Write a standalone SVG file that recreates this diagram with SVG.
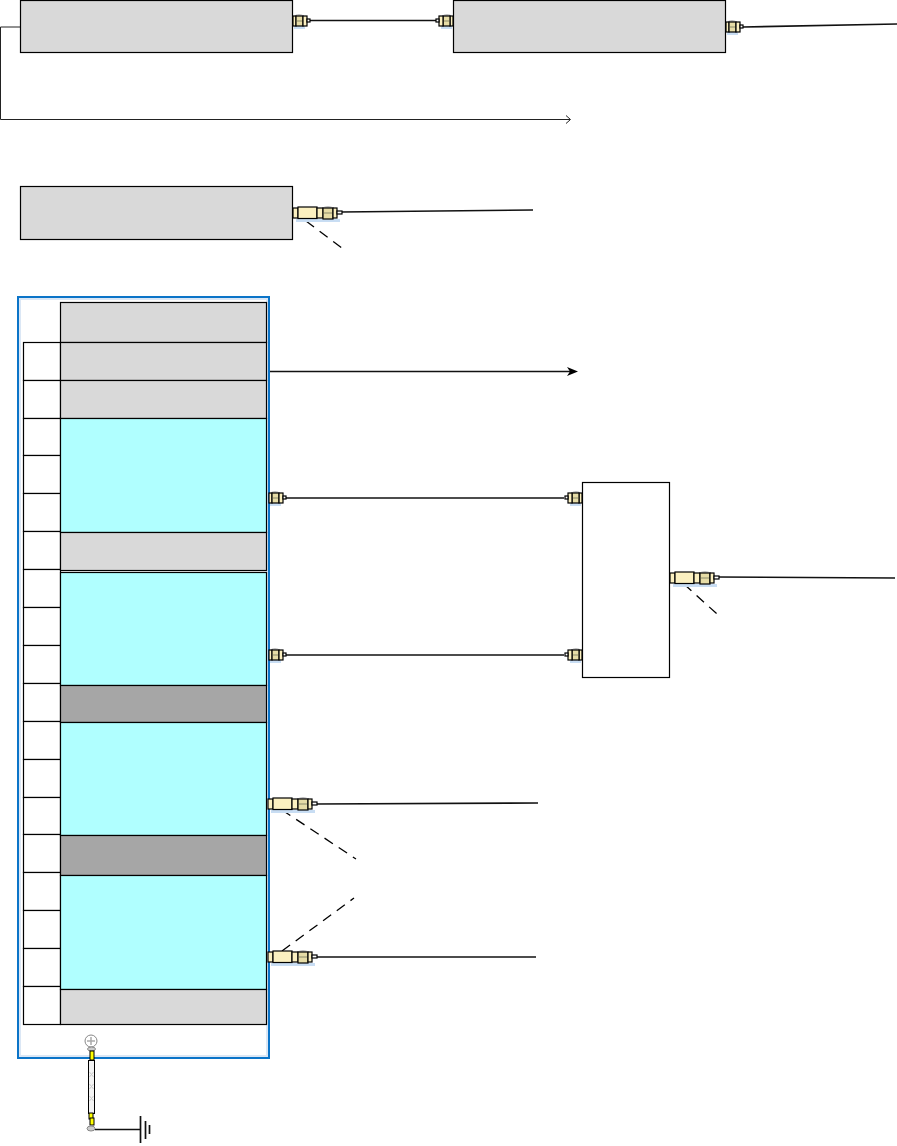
<svg xmlns="http://www.w3.org/2000/svg" width="897" height="1146" viewBox="0 0 897 1146">
<style>
.g{fill:#d9d9d9;stroke:#000;stroke-width:1.2}
.d{fill:#a6a6a6;stroke:#000;stroke-width:1.2}
.c{fill:#b0ffff;stroke:#000;stroke-width:1.2}
.w{fill:#fff;stroke:#000;stroke-width:1.2}
.l{fill:none;stroke:#222;stroke-width:1}
.t{fill:none;stroke:#111;stroke-width:1.7}
.da{fill:none;stroke:#000;stroke-width:1.3;stroke-dasharray:10 7}
.b{fill:#fbf0c0;stroke:#000;stroke-width:1.2}
.n{fill:#e6dca6;stroke:#000;stroke-width:1.2}
.sh{fill:#c8ddf3;stroke:none}
.x{stroke:#8a8a6a;stroke-width:1;fill:none}
</style>
<defs>
<g id="sma">
<rect class="sh" x="1" y="5" width="11" height="3"/>
<ellipse cx="6" cy="-5.500" rx="3.500" ry="1.500" fill="#bbb"/>
<rect class="b" x="0" y="-5" width="3" height="10"/>
<rect class="n" x="3" y="-5" width="7" height="10"/>
<path class="x" d="M4 0H9"/>
<rect class="b" x="10" y="-5" width="4" height="10"/>
<rect class="w" x="14" y="-2" width="3" height="3"/>
</g>
<g id="smal">
<rect class="sh" x="3" y="6" width="44" height="3"/>
<rect class="b" x="0" y="-5" width="5" height="10"/>
<rect class="b" x="5" y="-6" width="19" height="11.500"/>
<rect class="b" x="24" y="-5" width="6" height="10"/>
<ellipse cx="35" cy="-5.500" rx="4" ry="1.500" fill="#bbb"/>
<rect class="n" x="30" y="-5" width="10" height="11"/>
<path class="x" d="M31 0H39"/>
<rect class="b" x="40" y="-5" width="4" height="10"/>
<rect class="w" x="44" y="-2" width="5" height="3"/>
</g>
</defs>
<g id="connectors">
<path class="t" d="M309 20.500H438"/>
<path class="t" d="M743 27L897 24"/>
<path class="l" d="M20 27H0.500V119.500H570"/>
<path class="l" d="M566 115.500L570.500 119.500L566 123.500" stroke-width="0.8"/>
<path class="t" d="M341 212L533 210"/>
<path class="da" d="M306 221L342 248"/>
<path class="t" d="M269 371.500H570"/>
<path d="M567 367L578 371.500L567 376L570 371.500Z" fill="#000"/>
<path class="t" d="M286 498H564"/>
<path class="t" d="M286 655H564"/>
<path class="t" d="M717 577L895 578"/>
<path class="da" d="M684 584L717 614"/>
<path class="t" d="M316 804L538 803"/>
<path class="da" d="M282 810L356 859"/>
<path class="t" d="M316 957H536"/>
<path class="da" d="M282 951L354 898"/>
<path class="t" d="M95 1129.500H140" stroke-width="1.200"/>
<path class="t" d="M140.500 1116V1143M145.500 1121V1139M149.500 1125V1134" stroke-width="1.200"/>
</g>
<g id="node-top-left"><rect class="g" x="20.500" y="0.500" width="272" height="52"/><use href="#sma" x="293" y="21"/></g>
<g id="node-top-right"><rect class="g" x="453.500" y="0.500" width="272" height="52"/><use href="#sma" transform="translate(453 21) scale(-1 1)"/><use href="#sma" x="726" y="27"/></g>
<g id="node-mid"><rect class="g" x="20.500" y="186.500" width="272" height="53"/><use href="#smal" x="293" y="213"/></g>
<g id="frame"><rect x="20" y="299" width="247" height="757" fill="none" stroke="#dbe7f5" stroke-width="2"/><rect x="18" y="297" width="251" height="761" fill="none" stroke="#0b74c8" stroke-width="2"/></g>
<g id="slots">
<rect class="w" x="23.500" y="342.500" width="37" height="38"/>
<rect class="w" x="23.500" y="380.500" width="37" height="38"/>
<rect class="w" x="23.500" y="418.500" width="37" height="37"/>
<rect class="w" x="23.500" y="455.500" width="37" height="38"/>
<rect class="w" x="23.500" y="493.500" width="37" height="38"/>
<rect class="w" x="23.500" y="531.500" width="37" height="38"/>
<rect class="w" x="23.500" y="569.500" width="37" height="38"/>
<rect class="w" x="23.500" y="607.500" width="37" height="38"/>
<rect class="w" x="23.500" y="645.500" width="37" height="38"/>
<rect class="w" x="23.500" y="683.500" width="37" height="38"/>
<rect class="w" x="23.500" y="721.500" width="37" height="38"/>
<rect class="w" x="23.500" y="759.500" width="37" height="38"/>
<rect class="w" x="23.500" y="797.500" width="37" height="37"/>
<rect class="w" x="23.500" y="834.500" width="37" height="38"/>
<rect class="w" x="23.500" y="872.500" width="37" height="38"/>
<rect class="w" x="23.500" y="910.500" width="37" height="38"/>
<rect class="w" x="23.500" y="948.500" width="37" height="38"/>
<rect class="w" x="23.500" y="986.500" width="37" height="38"/>
</g>
<g id="cards">
<rect class="g" x="60.500" y="302.500" width="206" height="40"/>
<rect class="g" x="60.500" y="342.500" width="206" height="38"/>
<rect class="g" x="60.500" y="380.500" width="206" height="38"/>
<rect class="c" x="60.500" y="418.500" width="206" height="114"/>
<rect class="g" x="60.500" y="532.500" width="206" height="38"/>
<rect class="c" x="60.500" y="572.500" width="206" height="113"/>
<rect class="d" x="60.500" y="685.500" width="206" height="37"/>
<rect class="c" x="60.500" y="722.500" width="206" height="113"/>
<rect class="d" x="60.500" y="835.500" width="206" height="40" stroke-width="1.800"/>
<rect class="c" x="60.500" y="875.500" width="206" height="114"/>
<rect class="g" x="60.500" y="989.500" width="206" height="35"/>
</g>
<g id="card-ports">
<use href="#sma" x="269" y="498"/>
<use href="#sma" x="269" y="655"/>
<use href="#smal" x="268" y="804"/>
<use href="#smal" x="268" y="957"/>
</g>
<g id="combiner"><rect class="w" x="582.500" y="482.500" width="87" height="195"/>
<use href="#sma" transform="translate(582 498) scale(-1 1)"/>
<use href="#sma" transform="translate(582 655) scale(-1 1)"/>
<use href="#smal" x="670" y="578"/></g>
<g id="ground">
<circle cx="91" cy="1041" r="6" fill="#fff" stroke="#888" stroke-width="1"/>
<path d="M91 1037V1045M87 1041H95" stroke="#aaa" fill="none" stroke-width="1.500"/>
<ellipse cx="91.500" cy="1049" rx="4" ry="2" fill="#ccc" stroke="#888"/>
<rect x="90" y="1051" width="4" height="9" fill="#ff0" stroke="#000"/>
<rect x="88.500" y="1060.500" width="6" height="53" fill="#f4f4f4" stroke="#000"/>
<path d="M89.500 1072L93.500 1077M93.500 1072L89.500 1077M89.500 1084L93.500 1089M93.500 1084L89.500 1089M89.500 1096L93.500 1101M93.500 1096L89.500 1101" stroke="#ccc" fill="none"/>
<rect x="89" y="1113" width="4" height="6" fill="#ff0" stroke="#000"/>
<rect x="90" y="1118" width="4" height="7" fill="#ff0" stroke="#000"/>
<ellipse cx="91" cy="1128.500" rx="4" ry="2.500" fill="#ccc" stroke="#888"/>
</g>
</svg>
